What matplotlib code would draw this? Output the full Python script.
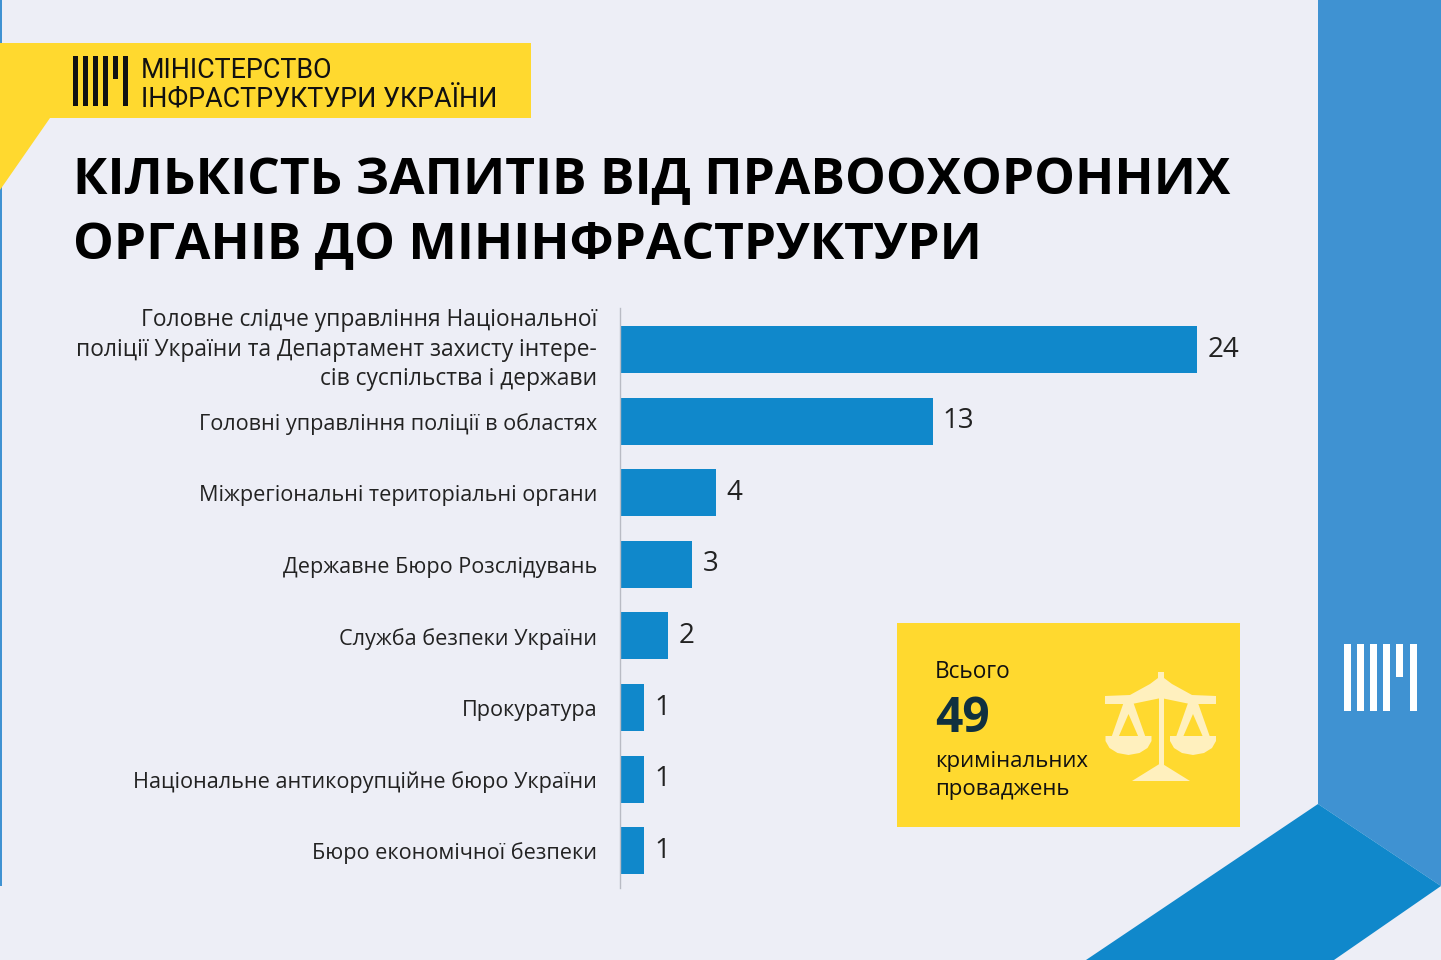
#!/usr/bin/env python3

import matplotlib
matplotlib.use("Agg")
import matplotlib.pyplot as plt
from matplotlib.patches import Polygon, Rectangle

plt.rcParams["font.family"] = ["Open Sans", "DejaVu Sans"]

categories = [
    "Головне слідче управління Національної\nполіції України та Департамент захисту інтере-\nсів суспільства і держави",
    "Головні управління поліції в областях",
    "Міжрегіональні територіальні органи",
    "Державне Бюро Розслідувань",
    "Служба безпеки України",
    "Прокуратура",
    "Національне антикорупційне бюро України",
    "Бюро економічної безпеки",
]
values = [24, 13, 4, 3, 2, 1, 1, 1]

BG = "#EDEEF6"
YELLOW = "#FFD92F"
BLUE = "#1088CB"
LIGHT_BLUE = "#3F92D2"
CREAM = "#FFF0BE"
W, H = 1441, 960

fig = plt.figure(figsize=(W / 100, H / 100), dpi=100, facecolor=BG)

# background layer in pixel coordinates
bg = fig.add_axes([0, 0, 1, 1])
bg.set_xlim(0, W)
bg.set_ylim(H, 0)
bg.axis("off")

bg.add_patch(Rectangle((0, 0), 2, 886, color=LIGHT_BLUE, lw=0))
bg.add_patch(Polygon([(1318, 0), (1441, 0), (1441, 886), (1318, 804)], color=LIGHT_BLUE, lw=0))
bg.add_patch(Polygon([(1318, 804), (1441, 886), (1334, 960), (1086, 960)], color=BLUE, lw=0))
bg.add_patch(Polygon([(0, 43), (531, 43), (531, 118), (50, 118), (0, 190)], color=YELLOW, lw=0))
bg.add_patch(Rectangle((897, 623), 343, 204, color=YELLOW, lw=0))


def logo(x0, y0, bar_w, step, h, short, color):
    for i in range(6):
        bar_h = short if i == 4 else h
        bg.add_patch(Rectangle((x0 + i * step, y0), bar_w, bar_h, color=color, lw=0))


logo(73, 56, 5, 10, 50, 23, "#111111")
logo(1343.5, 644, 7, 13.2, 67, 33, "white")

bg.text(141, 70, "МІНІСТЕРСТВО", fontsize=19.4, family="Roboto", color="#111111", va="center")
bg.text(141, 100, "ІНФРАСТРУКТУРИ УКРАЇНИ", fontsize=19.4, family="Roboto", color="#111111", va="center")

bg.text(73, 181, "КІЛЬКІСТЬ ЗАПИТІВ ВІД ПРАВООХОРОННИХ", fontsize=37, fontweight="bold", color="black", va="center")
bg.text(73, 245, "ОРГАНІВ ДО МІНІНФРАСТРУКТУРИ", fontsize=37, fontweight="bold", color="black", va="center")

# summary box
bg.text(935, 672, "Всього", fontsize=16.3, color="#111111", va="center")
bg.text(935, 720, "49", fontsize=34.5, fontweight="bold", color="#10303F", va="center")
bg.text(935, 761, "кримінальних", fontsize=16, color="#111111", va="center")
bg.text(935, 790, "проваджень", fontsize=16, color="#111111", va="center")

# scales icon
bg.add_patch(Rectangle((1158.5, 678), 5, 90, color=CREAM, lw=0))
bg.add_patch(Polygon([(1132, 781), (1161, 763), (1190, 781)], color=CREAM, lw=0))
bg.add_patch(Polygon([(1105, 696), (1130, 695), (1150, 684), (1158, 678), (1158, 672), (1164, 672),
                      (1164, 678), (1172, 684), (1192, 695), (1216, 696), (1216, 704), (1190, 704),
                      (1161, 698), (1132, 704), (1105, 704)], color=CREAM, lw=0))
for cx in (1128.5, 1193):
    bg.add_patch(Polygon([(cx - 5, 703), (cx + 5, 703), (cx + 17, 737), (cx + 10, 737), (cx, 714),
                          (cx - 10, 737), (cx - 17, 737)], color=CREAM, lw=0))
    bg.add_patch(Polygon([(cx - 23, 736), (cx + 23, 736), (cx + 23, 741), (cx + 19, 748), (cx + 11, 753),
                          (cx, 755), (cx - 11, 753), (cx - 19, 748), (cx - 23, 741)], color=CREAM, lw=0))

# chart
ax = fig.add_axes([620 / W, 1 - 888 / H, 640 / W, 580 / H])
ax.patch.set_alpha(0)
positions = list(range(len(values)))
ax.barh(positions, values, height=0.656, color=BLUE)
ax.set_xlim(0, 640 / 24.04)
ax.set_ylim(7.52, -0.58)
ax.set_yticks([])
ax.xaxis.set_visible(False)
for side in ("top", "right", "bottom"):
    ax.spines[side].set_visible(False)
ax.spines["left"].set_color("#B9BBC4")
ax.spines["left"].set_linewidth(1)

for pos, cat, val in zip(positions, categories, values):
    # first label is three lines and sits a little above its bar
    multi = "\n" in cat
    ax.annotate(cat, (0, pos), xytext=(-16.5, 0 if multi else -2), textcoords="offset points",
                fontsize=16.4 if multi else 15.6, color="#222222", ha="right", va="center", linespacing=1.29)
    ax.annotate(str(val), (val, pos), xytext=(7.5, 0), textcoords="offset points",
                fontsize=20, color="#222222", va="center")

fig.savefig("out.png", dpi=100, facecolor=BG)
